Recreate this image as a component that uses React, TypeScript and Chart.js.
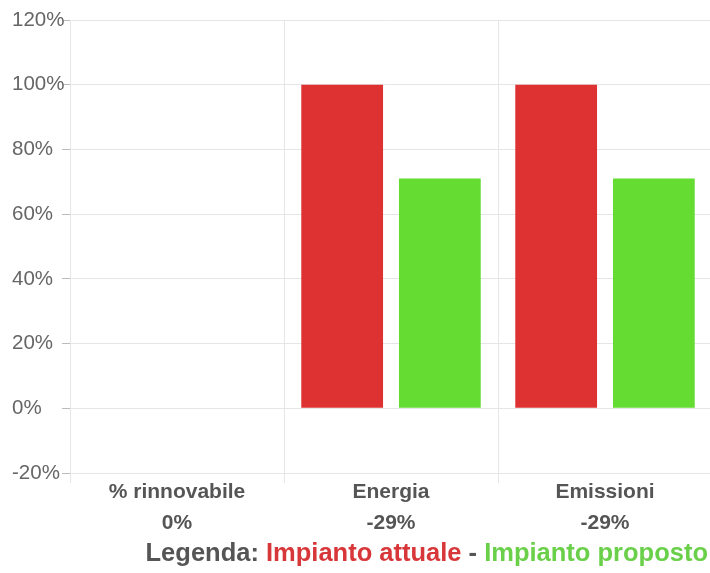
import React, { useEffect, useRef } from "react";
import { Chart, registerables } from "chart.js";

Chart.register(...registerables);

const categories = ["% rinnovabile", "Energia", "Emissioni"];
const changeLabels = ["0%", "-29%", "-29%"];
const impiantoAttuale = [0, 100, 100];
const impiantoProposto = [0, 71, 71];
const yMin = -20;
const yMax = 120;
const yStep = 20;

const RED = "#de3232";
const GREEN = "#64dc32";
const FONT = "'Liberation Sans', Arial, sans-serif";

export default function App() {
  const ref = useRef<HTMLCanvasElement | null>(null);

  useEffect(() => {
    if (!ref.current) return;
    const chart = new Chart(ref.current, {
      type: "bar",
      data: {
        labels: categories.map((c, i) => [c, changeLabels[i]]),
        datasets: [
          {
            label: "Impianto attuale",
            data: impiantoAttuale,
            backgroundColor: RED,
            borderWidth: 0,
            categoryPercentage: 0.913,
            barPercentage: 0.837,
          },
          {
            label: "Impianto proposto",
            data: impiantoProposto,
            backgroundColor: GREEN,
            borderWidth: 0,
            categoryPercentage: 0.913,
            barPercentage: 0.837,
          },
        ],
      },
      options: {
        animation: false,
        responsive: false,
        maintainAspectRatio: false,
        layout: { padding: { left: 12, top: 20, right: 0, bottom: 0 } },
        plugins: {
          legend: { display: false },
          tooltip: { enabled: false },
          title: { display: false },
        },
        scales: {
          x: {
            grid: {
              color: "#e6e6e6",
              tickColor: "#e6e6e6",
              tickLength: 10,
              offset: true,
            },
            border: { color: "#e6e6e6" },
            ticks: {
              color: "#555555",
              padding: -6,
              font: { family: FONT, size: 21, weight: "bold", lineHeight: 1.48 },
              maxRotation: 0,
              autoSkip: false,
            },
            afterFit: (scale: any) => {
              scale.height = 100;
            },
          },
          y: {
            min: yMin,
            max: yMax,
            grid: {
              color: "#e6e6e6",
              tickColor: "#bbbbbb",
              tickLength: 8,
            },
            border: { color: "#e6e6e6" },
            ticks: {
              stepSize: yStep,
              color: "#666666",
              crossAlign: "far",
              font: { family: FONT, size: 20.5 },
              callback: (v: any) => v + "%",
            },
            afterFit: (scale: any) => {
              scale.width = 58;
            },
          },
        },
      },
    });
    return () => chart.destroy();
  }, []);

  return (
    <div
      style={{
        position: "absolute",
        left: 0,
        top: 0,
        width: 710,
        height: 573,
        overflow: "hidden",
        background: "#ffffff",
      }}
    >
      <canvas ref={ref} width={712} height={573} style={{ display: "block" }} />
      <div
        style={{
          position: "absolute",
          right: 2,
          top: 540,
          fontFamily: FONT,
          fontWeight: "bold",
          fontSize: 25.5,
          lineHeight: "25px",
          whiteSpace: "nowrap",
          color: "#555555",
        }}
      >
        Legenda: <span style={{ color: "#d8373a" }}>Impianto attuale</span> -{" "}
        <span style={{ color: "#6ad04a" }}>Impianto proposto</span>
      </div>
    </div>
  );
}
